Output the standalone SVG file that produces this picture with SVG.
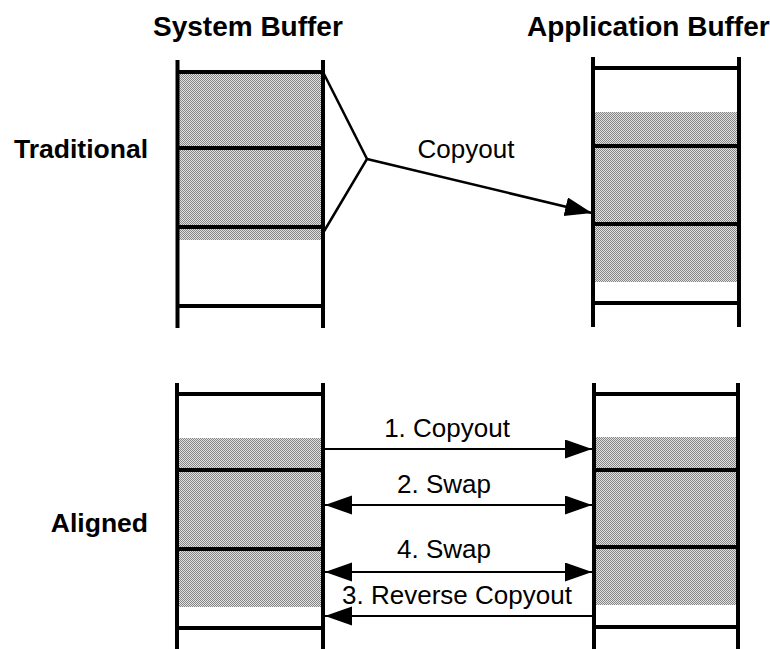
<svg xmlns="http://www.w3.org/2000/svg" width="770" height="649" viewBox="0 0 770 649">
<style>
  .title { font-family: "Liberation Sans", Arial, sans-serif; font-weight: bold; font-size: 28px; fill: #000; }
  .row { font-family: "Liberation Sans", Arial, sans-serif; font-weight: bold; font-size: 26.5px; fill: #000; text-anchor: end; }
  .lbl { font-family: "Liberation Sans", Arial, sans-serif; font-size: 26px; fill: #000; text-anchor: middle; }
  .wall { stroke: #000; stroke-width: 4; fill: none; }
  .div { stroke: #000; stroke-width: 4; fill: none; }
  .fill { fill: url(#dither); stroke: none; }
  .conn { stroke: #000; stroke-width: 2.5; fill: none; }
  .arr { stroke: #000; stroke-width: 2.2; fill: none; }
</style>
<defs>
  <pattern id="dither" x="0" y="0" width="2" height="2" patternUnits="userSpaceOnUse">
    <rect x="0" y="0" width="2" height="2" fill="#e2e2e2"/>
    <rect x="0" y="0" width="1" height="1" fill="#858585"/>
    <rect x="1" y="1" width="1" height="1" fill="#858585"/>
  </pattern>
  <marker id="ah" markerUnits="userSpaceOnUse" markerWidth="28" markerHeight="20" refX="27" refY="9.5" orient="auto-start-reverse">
    <path d="M0,0 L27,9.5 L0,19 z" fill="#000"/>
  </marker>
</defs>

<rect width="770" height="649" fill="#fff"/>

<text class="title" x="153" y="36">System Buffer</text>
<text class="title" x="527" y="36">Application Buffer</text>
<text class="row" x="148" y="158">Traditional</text>
<text class="row" x="148" y="532">Aligned</text>

<g id="sys-traditional">
  <rect class="fill" x="178" y="72" width="145" height="168"/>
  <line class="div" x1="177" y1="72" x2="323" y2="72"/>
  <line class="div" x1="177" y1="148" x2="323" y2="148"/>
  <line class="div" x1="177" y1="227" x2="323" y2="227"/>
  <line class="div" x1="177" y1="306" x2="323" y2="306"/>
  <line class="wall" x1="177.5" y1="60" x2="177.5" y2="328"/>
  <line class="wall" x1="323" y1="60" x2="323" y2="328"/>
</g>

<g id="app-traditional">
  <rect class="fill" x="594" y="112" width="145" height="170"/>
  <line class="div" x1="593" y1="68" x2="739" y2="68"/>
  <line class="div" x1="593" y1="146" x2="739" y2="146"/>
  <line class="div" x1="593" y1="224" x2="739" y2="224"/>
  <line class="div" x1="593" y1="303" x2="739" y2="303"/>
  <line class="wall" x1="593" y1="57" x2="593" y2="327"/>
  <line class="wall" x1="739" y1="57" x2="739" y2="327"/>
</g>

<g id="sys-aligned">
  <rect class="fill" x="178" y="438" width="145" height="169"/>
  <line class="div" x1="177" y1="394" x2="323" y2="394"/>
  <line class="div" x1="177" y1="470" x2="323" y2="470"/>
  <line class="div" x1="177" y1="549" x2="323" y2="549"/>
  <line class="div" x1="177" y1="628" x2="323" y2="628"/>
  <line class="wall" x1="177" y1="383" x2="177" y2="649"/>
  <line class="wall" x1="323" y1="383" x2="323" y2="649"/>
</g>

<g id="app-aligned">
  <rect class="fill" x="594" y="437" width="144" height="168"/>
  <line class="div" x1="594" y1="394" x2="738" y2="394"/>
  <line class="div" x1="594" y1="470" x2="738" y2="470"/>
  <line class="div" x1="594" y1="547" x2="738" y2="547"/>
  <line class="div" x1="594" y1="627" x2="738" y2="627"/>
  <line class="wall" x1="594" y1="383" x2="594" y2="649"/>
  <line class="wall" x1="738" y1="383" x2="738" y2="649"/>
</g>

<g id="connectors">
  <polyline class="conn" points="323,72 367,159 323,233"/>
  <line class="conn" x1="367" y1="159" x2="592" y2="213" marker-end="url(#ah)"/>
  <line class="arr" x1="324" y1="449" x2="592" y2="449" marker-end="url(#ah)"/>
  <line class="arr" x1="325" y1="505" x2="592" y2="505" marker-start="url(#ah)" marker-end="url(#ah)"/>
  <line class="arr" x1="325" y1="572" x2="592" y2="572" marker-start="url(#ah)" marker-end="url(#ah)"/>
  <line class="arr" x1="593" y1="616" x2="325" y2="616" marker-end="url(#ah)"/>
</g>

<g id="labels">
  <text class="lbl" x="466" y="158">Copyout</text>
  <text class="lbl" x="447" y="437">1. Copyout</text>
  <text class="lbl" x="444" y="493">2. Swap</text>
  <text class="lbl" x="444" y="558">4. Swap</text>
  <text class="lbl" x="457" y="604">3. Reverse Copyout</text>
</g>
</svg>
